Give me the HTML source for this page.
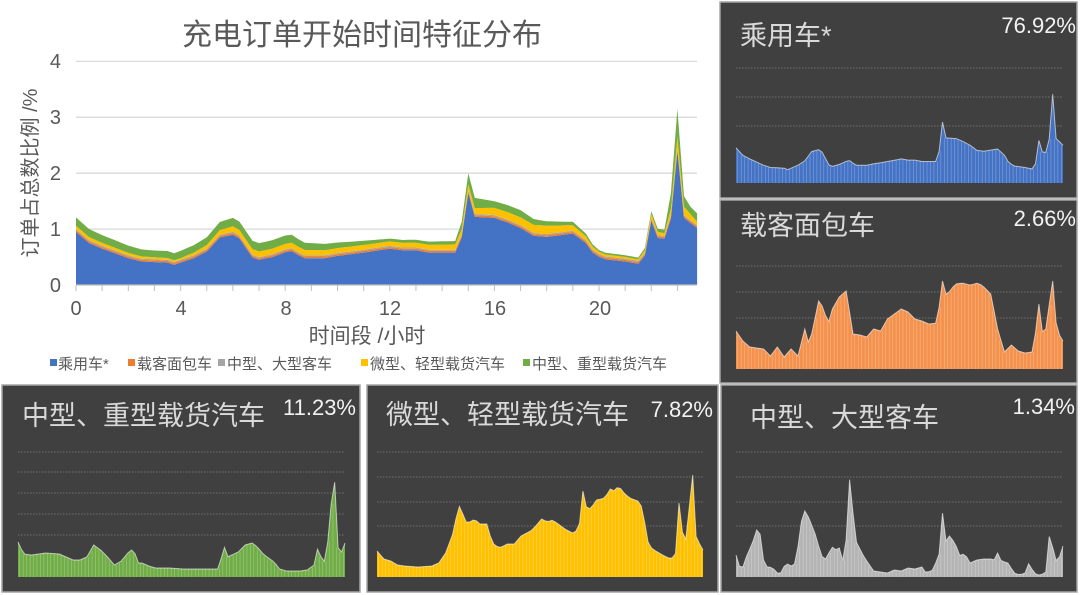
<!DOCTYPE html>
<html><head><meta charset="utf-8">
<style>
body{margin:0;width:1080px;height:595px;background:#fff;overflow:hidden;font-family:"Liberation Sans","Noto Sans CJK SC",sans-serif;}
svg{display:block}
</style></head><body>
<svg id="s" width="1080" height="595" xmlns="http://www.w3.org/2000/svg" font-family="Liberation Sans, Noto Sans CJK SC, sans-serif">
<rect width="1080" height="595" fill="#fff"/>
<g id="main"></g>
<text x="362" y="45" font-size="30" fill="#595959" text-anchor="middle">充电订单开始时间特征分布</text>
<g font-size="20" fill="#595959" text-anchor="end">
<text x="61" y="292">0</text><text x="61" y="236">1</text><text x="61" y="180">2</text><text x="61" y="124">3</text><text x="61" y="68">4</text>
</g>
<g font-size="20" fill="#595959" text-anchor="middle">
<text x="76" y="315">0</text><text x="181" y="315">4</text><text x="286" y="315">8</text><text x="390" y="315">12</text><text x="495" y="315">16</text><text x="600" y="315">20</text>
</g>
<text x="367" y="343" font-size="21" fill="#595959" text-anchor="middle">时间段 /小时</text>
<text transform="translate(37,173) rotate(-90)" font-size="20" fill="#595959" text-anchor="middle">订单占总数比例 /%</text>
<g font-size="15" fill="#595959">
<rect x="50" y="359" width="7" height="7" fill="#4472c4"/><text x="58" y="369">乘用车*</text>
<rect x="128" y="359" width="7" height="7" fill="#ed7d31"/><text x="137" y="369">载客面包车</text>
<rect x="218" y="359" width="7" height="7" fill="#a5a5a5"/><text x="227" y="369">中型、大型客车</text>
<rect x="361" y="359" width="7" height="7" fill="#ffc000"/><text x="370" y="369">微型、轻型载货汽车</text>
<rect x="523" y="359" width="7" height="7" fill="#70ad47"/><text x="532" y="369">中型、重型载货汽车</text>
</g>
<g id="panels"></g>
</svg>
<script>
function interp(kp,t){for(let i=0;i<kp.length-1;i++){if(t>=kp[i][0]&&t<=kp[i+1][0]){const a=kp[i],b=kp[i+1];return a[1]+(b[1]-a[1])*(t-a[0])/(b[0]-a[0]);}}return kp[kp.length-1][1];}
function pairs(a){const r=[];for(let i=0;i<a.length;i+=2)r.push([a[i],a[i+1]]);return r;}
const N=96,T=[];for(let i=0;i<N;i++)T.push(i*23.75/(N-1));
const blue=pairs([0,.95,.5,.75,1,.65,2,.48,2.5,.42,3.5,.4,3.75,.36,4.5,.48,5,.6,5.5,.85,6,.9,6.3,.82,6.7,.5,7,.45,7.5,.5,8.2,.62,8.7,.48,9.5,.48,10,.52,11,.58,12,.65,12.5,.62,13,.62,13.5,.58,14.5,.58,14.75,.85,15,1.65,15.25,1.22,16,1.2,16.5,1.12,17,1.02,17.5,.88,18,.86,19,.92,19.5,.75,19.8,.55,20.2,.46,21,.42,21.5,.38,21.8,.55,22,1.15,22.3,.78,22.6,.85,22.8,1.3,23,2.4,23.25,1.2,23.75,1.02]);
const yel=pairs([0,.06,4,.03,6,.1,8,.1,12,.08,15,.1,16,.13,18,.15,19,.1,20,.04,21.5,.03,22,.07,22.5,.05,23,.2,23.75,.06]);
const grn=pairs([0,.15,3,.12,6,.15,8,.15,12,.05,14.5,.06,15,.2,16,.12,17,.13,18,.08,19.5,.05,20,.03,21.5,.03,22,.05,22.5,.06,23,.5,23.3,.12,23.75,.15]);
const NS="http://www.w3.org/2000/svg";
function el(p,tag,at){const e=document.createElementNS(NS,tag);for(const k in at)e.setAttribute(k,at[k]);p.appendChild(e);return e;}
const m=document.getElementById('main');
for(let v=1;v<=4;v++)el(m,'line',{x1:76,x2:697,y1:285-55.9*v,y2:285-55.9*v,stroke:'#d9d9d9','stroke-width':1.3});
const X=t=>76+26.15*t,Y=v=>285-55.9*v;
const layers=[[t=>interp(blue,t),'#4472c4'],[t=>.03,'#ed7d31'],[t=>.02,'#a5a5a5'],[t=>interp(yel,t),'#ffc000'],[t=>interp(grn,t),'#70ad47']];
let base=T.map(()=>0);
for(const [f,c] of layers){const top=T.map((t,i)=>base[i]+f(t));let d='M'+T.map((t,i)=>X(t).toFixed(1)+','+Y(top[i]).toFixed(1)).join('L');for(let i=N-1;i>=0;i--)d+='L'+X(T[i]).toFixed(1)+','+Y(base[i]).toFixed(1);el(m,'path',{d:d+'Z',fill:c});base=top;}
el(m,'line',{x1:76,x2:697,y1:285,y2:285,stroke:'#bfbfbf','stroke-width':1.3});
for(let h=0;h<=23;h++)el(m,'line',{x1:X(h),x2:X(h),y1:285,y2:291,stroke:'#bfbfbf'});
const P=document.getElementById('panels');
function panel(o){
 el(P,'rect',{x:o.x,y:o.y,width:o.w,height:o.h,fill:'#404040',stroke:'#a6a6a6','stroke-width':1.5});
 for(const g of o.grid)el(P,'line',{x1:o.px0,x2:o.px1,y1:g,y2:g,stroke:'#808080','stroke-dasharray':'1.5,1.5','stroke-width':.8});
 const xs=t=>o.px0+(o.px1-o.px0)*t/23.75;
 const hs=T.map(t=>o.f(t));
 let d='M'+xs(0)+','+o.base+T.map((t,i)=>'L'+xs(t).toFixed(1)+','+(o.base-hs[i]).toFixed(1)).join('')+'L'+o.px1+','+o.base+'Z';
 el(P,'path',{d:d,fill:o.c});
 for(let i=1;i<N;i++){const x=xs(T[i])-1.7;el(P,'line',{x1:x,x2:x,y1:o.base,y2:o.base-Math.min(hs[i],hs[i-1]),stroke:'#fff','stroke-opacity':.35,'stroke-width':.6});}
 el(P,'polyline',{points:T.map((t,i)=>xs(t).toFixed(1)+','+(o.base-hs[i]).toFixed(1)).join(' '),fill:'none',stroke:'#fff','stroke-opacity':.6,'stroke-width':1});
 const t1=el(P,'text',{x:o.tx,y:o.ty,'font-size':27,fill:'#d9d9d9'});t1.textContent=o.title;
 const t2=el(P,'text',{x:o.vx,y:o.vy,'font-size':22,fill:'#f2f2f2','text-anchor':'end'});t2.textContent=o.val;
}
panel({x:720,y:2,w:357,h:196,px0:736,px1:1063,base:183,grid:[68,97,126],c:'#4472c4',f:t=>interp(blue,t)*37,title:'乘用车*',val:'76.92%',tx:740,ty:45,vx:1076,vy:33});
const ora=pairs([0,38,.5,28,1,22,2,20,2.5,13,3,22,3.5,12,4,20,4.5,13,5,40,5.25,27,5.5,35,6,68,6.3,62,6.7,45,7,60,7.5,72,8,78,8.5,35,9,34,9.5,32,10,40,10.5,38,11,50,11.5,55,12,60,12.5,57,13,50,13.5,48,14,45,14.6,46,15,88,15.3,72,15.6,80,16,85,16.4,86,17,84,17.6,86,18,82,18.5,75,19,40,19.5,17,20,24,20.5,18,21,16,21.5,17,21.8,40,22,65,22.2,37,22.5,40,23,88,23.3,38,23.75,28]);
panel({x:720,y:200,w:357,h:183,px0:736,px1:1063,base:369,grid:[266,292,318],c:'#f4914c',f:t=>interp(ora,t),title:'载客面包车',val:'2.66%',tx:740,ty:235,vx:1076,vy:226});
const g2=pairs([0,35,.4,23,1,22,2,24,3,23,4,17,4.5,17,5,20,5.5,32,6,27,6.5,20,7,12,7.5,16,8.1,26,8.4,28,8.7,14,9,14,9.5,11,10,9,11,9,12,8,13,8,14,8,14.6,8,14.95,32,15.2,20,16,25,16.5,32,17,34,17.4,30,17.8,23,18.2,19,18.6,15,19,8,19.5,6,20.5,6,21,7,21.5,12,21.8,31,22.1,15,22.3,16,22.6,45,22.95,111,23.2,30,23.5,25,23.75,34]);
panel({x:2,y:385,w:358,h:207,px0:18,px1:345,base:577,grid:[452,472,493,514,535],c:'#70ad47',f:t=>interp(g2,t),title:'中型、重型载货汽车',val:'11.23%',tx:22,ty:425,vx:356,vy:415});
const y2=pairs([0,26,.5,18,1,16,1.5,12,2,11,3,10,4,11,4.5,14,5,24,5.3,35,5.6,46,5.9,70,6.1,71,6.4,55,6.8,55,7.1,58,7.5,53,8,53,8.4,34,8.9,29,9.5,33,10,33,10.5,41,11.3,47,12,58,12.4,55,12.8,57,13.3,52,13.8,47,14.4,43,14.8,55,15,86,15.3,67,15.6,69,16,77,16.6,79,17,88,17.3,86,17.6,91,18,84,18.4,79,19,76,19.3,70,19.8,31,20.3,26,20.8,22,21.2,19,21.6,19,21.8,25,22,74,22.3,39,22.5,38,23,102,23.2,42,23.5,33,23.75,27]);
panel({x:367,y:385,w:351,h:207,px0:377,px1:703,base:577,grid:[452,477,502,526],c:'#ffc000',f:t=>interp(y2,t),title:'微型、轻型载货汽车',val:'7.82%',tx:386,ty:424,vx:713,vy:417});
const gr=pairs([0,22,.2,11,.5,10,.8,22,1.2,34,1.5,47,1.8,42,2,17,2.3,9,2.6,10,3,4,3.3,4,3.6,14,4,11,4.4,14,4.6,47,4.85,61,5,66,5.3,59,5.8,41,6.2,21,6.6,17,6.9,31,7.2,27,7.5,29,7.8,14,8,37,8.15,80,8.3,106,8.5,64,8.7,36,9.3,20,10,6,11,4,11.5,7,12,6,12.5,9,13,8,13.5,10,13.8,4,14.3,7,14.6,17,14.85,27,15,64,15.15,34,15.5,41,15.9,34,16.3,20,16.6,24,17,14,17.5,17,18,18,18.5,18,18.8,17,19,24,19.3,15,19.7,15,20.2,4,20.6,2,21,4,21.3,15,21.6,4,22,2,22.3,3,22.5,5,22.7,40,22.9,42,23.1,17,23.4,16,23.75,31]);
panel({x:721,y:385,w:356,h:207,px0:736,px1:1063,base:577,grid:[452,477,502,526],c:'#b4b4b4',f:t=>interp(gr,t),title:'中型、大型客车',val:'1.34%',tx:750,ty:427,vx:1075,vy:414});
</script>
</body></html>
